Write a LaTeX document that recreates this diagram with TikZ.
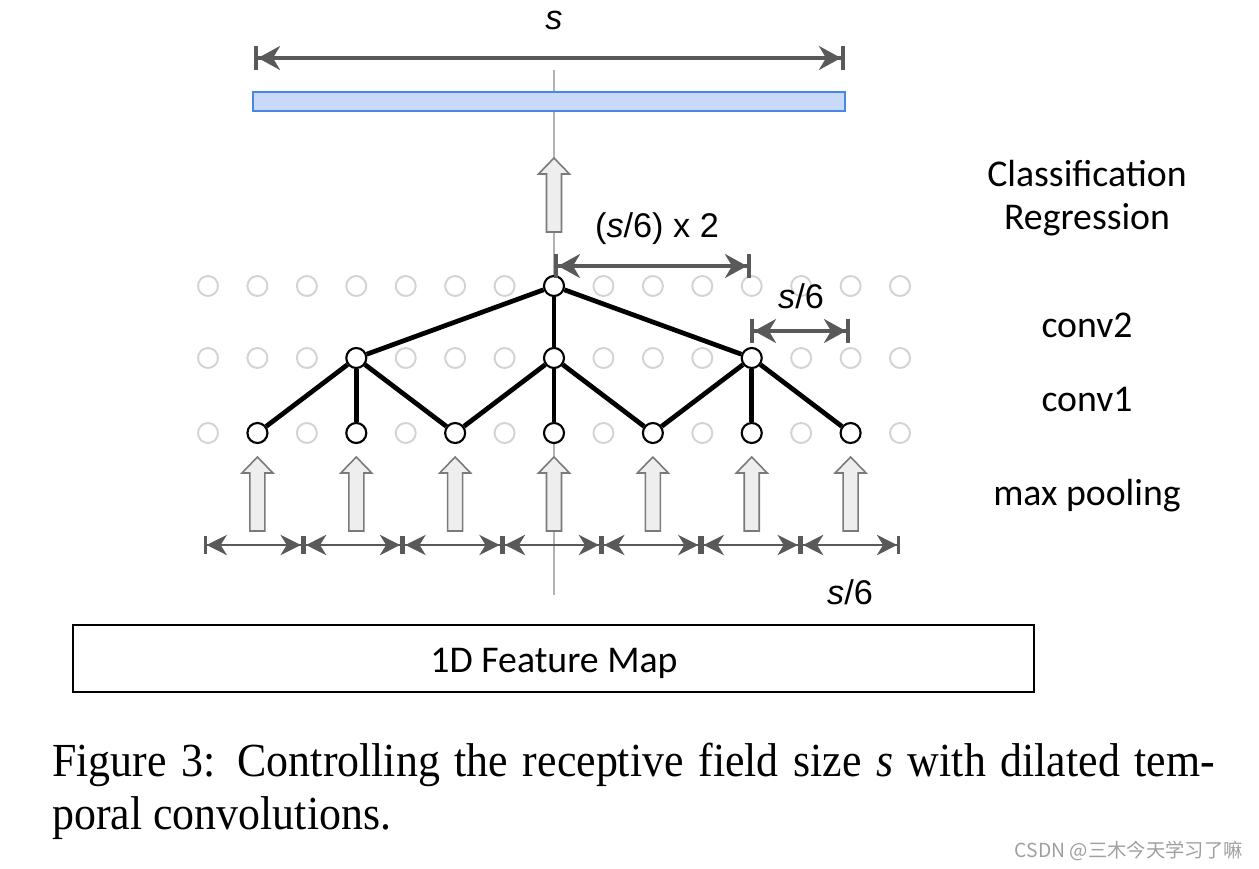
\documentclass[tikz,border=0pt]{standalone}
\usepackage{fontspec}
\setmainfont{Liberation Serif}
\newfontfamily\capfont[FakeStretch=0.925]{Liberation Serif}
\newfontfamily\calibri{Carlito}
\newfontfamily\arial{Liberation Sans}
\newfontfamily\cjk{Noto Sans CJK SC}
\usetikzlibrary{arrows.meta}

\definecolor{dimgray}{HTML}{595959}
\definecolor{dotgray}{HTML}{D3D3D3}
\definecolor{boxblue}{HTML}{C9DAF8}
\definecolor{edgeblue}{HTML}{4A86E8}
\definecolor{arrowfill}{HTML}{EEEEEE}
\definecolor{arrowdraw}{HTML}{7A7A7A}

\tikzset{
    dot/.style={circle, draw=dotgray, line width=1.1pt, minimum size=0.4cm, inner sep=0pt},
    unit/.style={circle, draw=black, fill=white, line width=1.2pt, minimum size=0.4cm, inner sep=0pt},
    link/.style={line width=2.7pt},
    bigdim/.style={draw=dimgray, line width=2.3pt,
        {Bar[width=13.6pt,sep=0pt]Stealth[length=12.5pt,width=13.6pt,inset=4pt]}-{Stealth[length=12.5pt,width=13.6pt,inset=4pt,sep=0pt]Bar[width=13.6pt]}},
    smalldim/.style={draw=dimgray, line width=1.5pt,
        {Bar[width=10pt,sep=0pt]Stealth[length=11.5pt,width=11.5pt,inset=3.5pt]}-{Stealth[length=11.5pt,width=11.5pt,inset=3.5pt,sep=0pt]Bar[width=10pt]}},
    lbl/.style={font=\calibri\fontsize{21.5}{26}\selectfont},
    dimlbl/.style={font=\arial\fontsize{19.5}{23}\selectfont},
    caption/.style={anchor=base west, inner sep=0pt, font=\capfont\fontsize{27}{33}\selectfont},
    uparr/.pic={
        \draw[fill=arrowfill, draw=arrowdraw, line width=0.9pt]
            (-7.5,0) -- (-7.5,-58) -- (-15.5,-58) -- (0,-74) -- (15.5,-58) -- (7.5,-58) -- (7.5,0) -- cycle;
    }
}

\begin{document}
\begin{tikzpicture}[x=0.02cm, y=-0.02cm]
    \useasboundingbox (0,0) rectangle (1259,869);

    % centre line
    \draw[gray!60, line width=0.6pt] (554,70) -- (554,595);

    % receptive field
    \coordinate (sl) at (254,58);
    \coordinate (sr) at (845,58);
    \draw[bigdim] (sl) -- (sr);
    \node[dimlbl] (s) at (554,20) {\textit{s}};
    \node[draw=edgeblue, fill=boxblue, line width=0.9pt, minimum width=11.84cm, minimum height=0.38cm, inner sep=0pt] (field) at (549,101.5) {};

    \pic at (554,232) {uparr};

    % grid of positions
    \foreach \r/\y in {2/286, 1/358, 0/433}
        \foreach \c in {0,...,14}
            \node[dot] (g\r\c) at ({208+49.43*\c},\y) {};

    % dilated units
    \foreach \c in {1,3,5,7,9,11,13}
        \node[unit] (u0\c) at (g0\c) {};
    \foreach \c in {3,7,11}
        \node[unit] (u1\c) at (g1\c) {};
    \node[unit] (u27) at (g27) {};

    \draw[link] (u27) -- (u13);
    \draw[link] (u27) -- (u17);
    \draw[link] (u27) -- (u111);
    \draw[link] (u13) -- (u01);
    \draw[link] (u13) -- (u03);
    \draw[link] (u13) -- (u05);
    \draw[link] (u17) -- (u05);
    \draw[link] (u17) -- (u07);
    \draw[link] (u17) -- (u09);
    \draw[link] (u111) -- (u09);
    \draw[link] (u111) -- (u011);
    \draw[link] (u111) -- (u013);

    % dilation widths
    \coordinate (a1) at (554,266);
    \coordinate (a2) at (751,266);
    \draw[bigdim] (a1) -- (a2);
    \node[dimlbl] (dil2) at (657,229) {(\textit{s}/6) x 2};
    \coordinate (b1) at (750,331);
    \coordinate (b2) at (850,331);
    \draw[bigdim] (b1) -- (b2);
    \node[dimlbl] (dil1) at (801,296) {\textit{s}/6};

    % pooling
    \foreach \c in {1,3,5,7,9,11,13}
        \pic at ({208+49.43*\c},531) {uparr};
    \foreach \i in {0,...,7}
        \coordinate (d\i) at ({204+99.4*\i},545);
    \foreach \i [evaluate=\i as \j using int(\i+1)] in {0,...,6}
        \draw[smalldim] (d\i) -- (d\j);
    \node[dimlbl] (pool) at (850,592) {\textit{s}/6};

    % feature map
    \draw[line width=1.6pt] (73,625) rectangle (1034,692);
    \node[lbl] (fmap) at (554,663) {1D Feature Map};

    % layer names
    \node[lbl] (cls) at (1087,174) {Classification};
    \node[lbl] (reg) at (1087,220) {Regression};
    \node[lbl] (c2) at (1087,325) {conv2};
    \node[lbl] (c1) at (1087,399) {conv1};
    \node[lbl] (mp) at (1087,496) {max pooling};

    % caption
    \node[caption] (cap1) at (52,776) {\makebox[23.26cm][s]{Figure 3: Controlling the receptive field size \textit{s} with dilated tem-}};
    \node[caption] (cap2) at (52,829) {poral convolutions.};

    \node[anchor=east, inner sep=0pt, text=gray!75, font=\cjk\fontsize{11}{13}\selectfont] (mark) at (1243,851) {CSDN @三木今天学习了嘛};
\end{tikzpicture}
\end{document}
